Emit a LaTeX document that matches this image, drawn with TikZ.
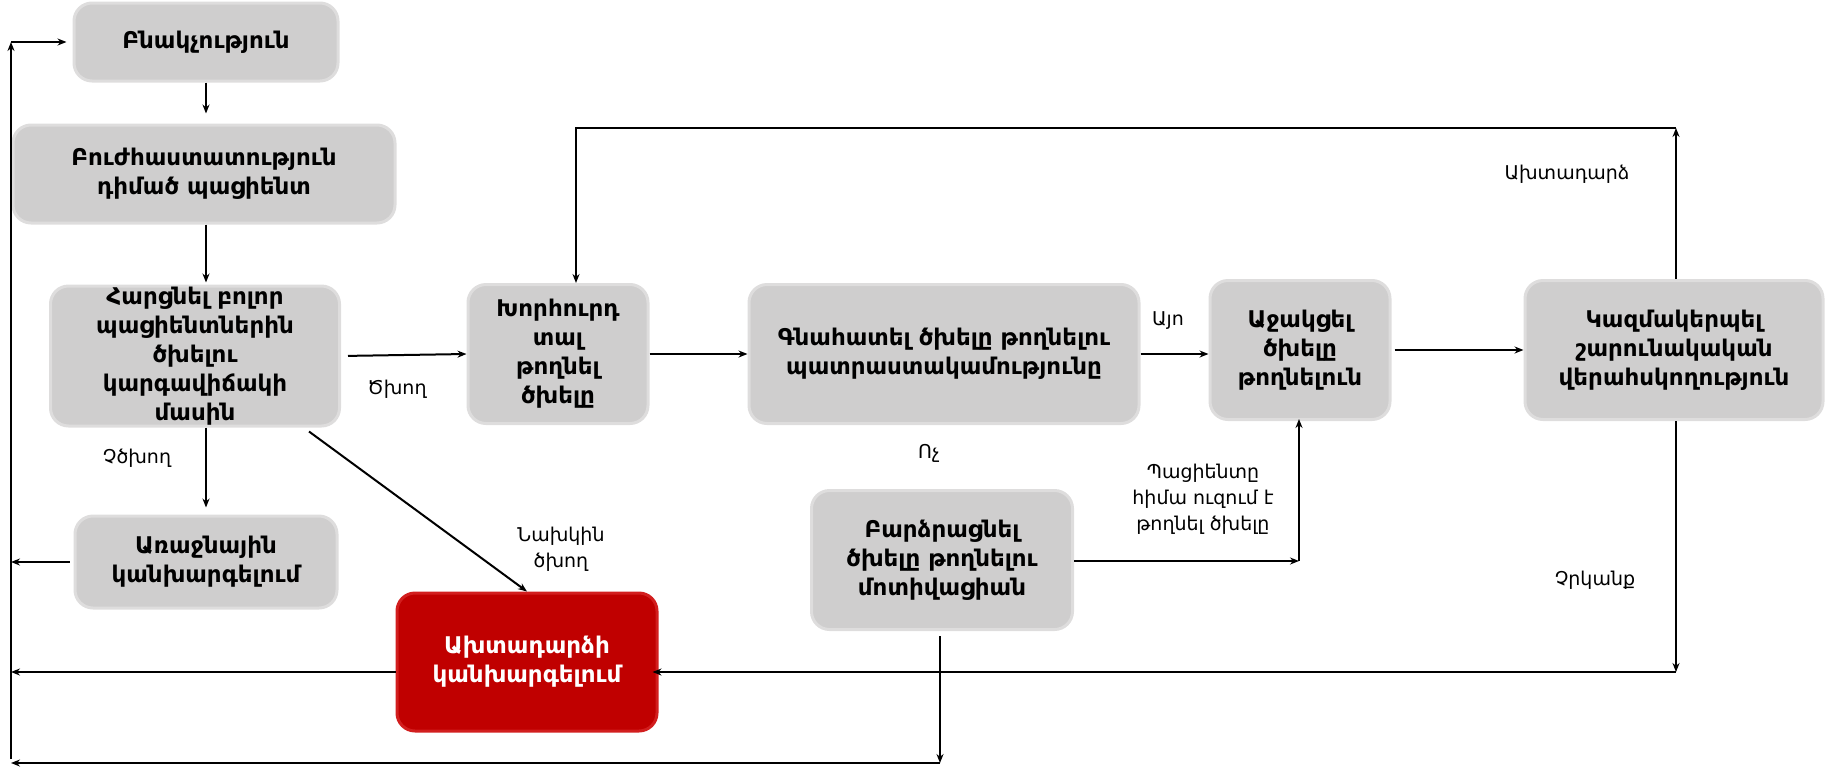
\documentclass[tikz,border=0pt]{standalone}
\usepackage{fontspec}
\setmainfont{DejaVu Sans}
\usetikzlibrary{arrows.meta}
\definecolor{boxgray}{RGB}{207,206,206}
\definecolor{boxedge}{RGB}{222,221,221}
\definecolor{boxred}{RGB}{192,0,0}
\definecolor{rededge}{RGB}{210,30,30}
\begin{document}
\begin{tikzpicture}[x=1pt,y=-1pt,
  gbox/.style={draw=boxedge,line width=3pt,fill=boxgray,rounded corners=18pt,align=center,
    font=\fontsize{23}{29}\selectfont\bfseries,inner sep=0pt},
  rbox/.style={gbox,draw=rededge,fill=boxred,text=white},
  lbl/.style={align=center,font=\fontsize{19}{26}\selectfont},
  arr/.style={line width=2pt,-{Stealth[length=9pt,width=7pt]}},
  ln/.style={line width=2pt}]
\useasboundingbox (0,0) rectangle (1832,769);
% boxes
\node[gbox,minimum width=264pt,minimum height=78pt] (b1) at (206,42) {Բնակչություն};
\node[gbox,minimum width=382pt,minimum height=98pt] (b2) at (204,174) {Բուժհաստատություն\\դիմած պացիենտ};
\node[gbox,minimum width=289pt,minimum height=140pt] (b3) at (195,356) {Հարցնել բոլոր\\պացիենտներին\\ծխելու\\կարգավիճակի\\մասին};
\node[gbox,minimum width=180pt,minimum height=139pt] (b4) at (558,354) {Խորհուրդ\\տալ\\թողնել\\ծխելը};
\node[gbox,minimum width=390pt,minimum height=139pt] (b5) at (944,354) {Գնահատել ծխելը թողնելու\\պատրաստակամությունը};
\node[gbox,minimum width=180pt,minimum height=139pt] (b6) at (1300,350) {Աջակցել\\ծխելը\\թողնելուն};
\node[gbox,minimum width=298pt,minimum height=139pt] (b7) at (1674,350) {Կազմակերպել\\շարունակական\\վերահսկողություն};
\node[gbox,minimum width=262pt,minimum height=92pt] (b8) at (206,562) {Առաջնային\\կանխարգելում};
\node[rbox,minimum width=260pt,minimum height=138pt] (b9) at (527,662) {Ախտադարձի\\կանխարգելում};
\node[gbox,minimum width=261pt,minimum height=139pt] (b10) at (942,560) {Բարձրացնել\\ծխելը թողնելու\\մոտիվացիան};
% labels
\node[lbl] (l1) at (397,389) {Ծխող};
\node[lbl] (l2) at (137,458) {Չծխող};
\node[lbl] (l3) at (561,549) {Նախկին\\ծխող};
\node[lbl] (l4) at (1168,321) {Այո};
\node[lbl] (l5) at (929,453) {Ոչ};
\node[lbl] (l6) at (1203,499) {Պացիենտը\\հիմա ուզում է\\թողնել ծխելը};
\node[lbl] (l7) at (1567,174) {Ախտադարձ};
\node[lbl] (l8) at (1595,580) {Չրկանք};
% helper coordinates
\coordinate (L) at (11,0);
\coordinate (tr) at (1676,128);
\coordinate (br) at (1676,672);
\coordinate (mr) at (1299,561);
\coordinate (bb) at (940,763);
% connectors
\draw[arr,shorten >=10pt] (b1.south) -- (b1.south |- b2.north);
\draw[arr,shorten >=2pt] (b1.south |- b2.south) -- (b1.south |- b3.north);
\draw[arr,shorten <=7pt] (b3.east) -- (b4.west);
\draw[arr,shorten >=7pt] (b8.north |- b3.south) -- (b8.north);
\draw[arr] ([xshift=-32pt,yshift=-4pt]b3.south east) -- (b9.north);
\draw[arr] (b4.east) -- (b5.west);
\draw[arr] (b5.east) -- (b5.east -| b6.west);
\draw[arr,shorten <=3pt] (b6.east) -- (b7.west);
\draw[arr] (b7.north -| tr) -- (tr);
\draw[arr] (tr) -| ([xshift=18pt]b4.north);
\draw[arr] (b7.south -| br) -- (br);
\draw[arr,shorten >=-6pt] (br) -- (br -| b9.east);
\draw[arr] (br -| b9.west) -- (L |- br);
\draw[arr,shorten <=4pt] (b8.west) -- (L |- b8.west);
\draw[arr] (b10.east |- mr) -- (mr);
\draw[arr,shorten >=-2pt] (mr) -- (mr |- b6.south);
\draw[arr] ([yshift=-5pt]b10.south -| bb) -- (bb);
\draw[arr] (bb) -- (L |- bb);
\draw[arr] ([yshift=4pt]L |- bb) -- (L |- b1.west);
\draw[arr,shorten >=6pt] (L |- b1.west) -- (b1.west);
\end{tikzpicture}
\end{document}
